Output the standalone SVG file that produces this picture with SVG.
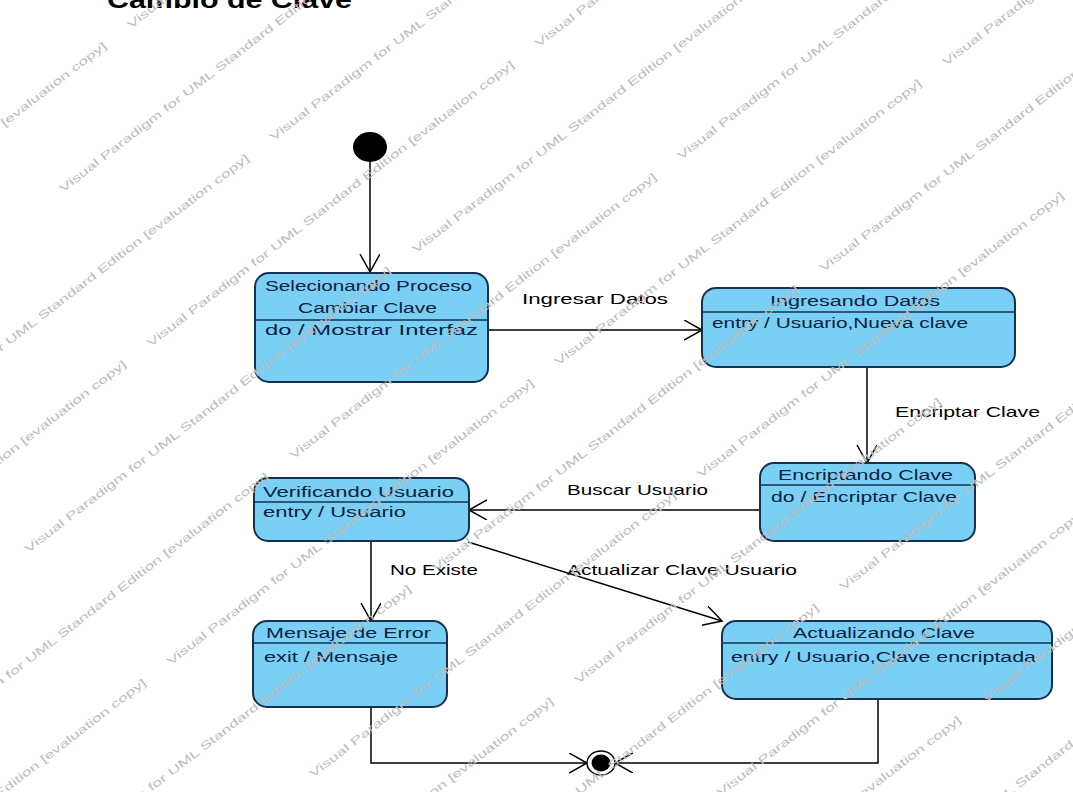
<svg xmlns="http://www.w3.org/2000/svg" width="1073" height="792" viewBox="0 0 1073 792">
<style>
.node rect{fill:#7acff5;stroke:#16304f;stroke-width:2}
.node line{stroke:#16304f;stroke-width:1.6}
.nt{font-family:"Liberation Sans",Arial,sans-serif;font-size:14px;fill:#0d2240}
.lbl{font-family:"Liberation Sans",Arial,sans-serif;font-size:15px;fill:#000}
.ttl{font-family:"Liberation Sans",Arial,sans-serif;font-size:24px;font-weight:bold;fill:#000}
.conn path{fill:none;stroke:#000;stroke-width:1.5}
.wm{font-family:"Liberation Sans",Arial,sans-serif;font-size:11px;fill:#bdbdbd}
</style>
<defs>
<marker id="arr" markerUnits="userSpaceOnUse" markerWidth="22" markerHeight="24" refX="18" refY="10" orient="auto">
<path d="M0,0 L18,10 L0,20" fill="none" stroke="#000" stroke-width="1.5"/>
</marker>
</defs>
<rect width="1073" height="792" fill="#fff"/>
<text class="ttl" x="107" y="8" textLength="245" lengthAdjust="spacingAndGlyphs">Cambio de Clave</text>

<g id="connectors" class="conn">
<path d="M370,161 L370,272" marker-end="url(#arr)"/>
<path d="M488,330 L702,330" marker-end="url(#arr)"/>
<path d="M867,367 L867,463" marker-end="url(#arr)"/>
<path d="M760,510 L469,510" marker-end="url(#arr)"/>
<path d="M371,541 L371,621" marker-end="url(#arr)"/>
<path d="M468,542 L722,621" marker-end="url(#arr)"/>
<path d="M371,707 L371,763 L587,763" marker-end="url(#arr)"/>
<path d="M878,699 L878,763 L615,763" marker-end="url(#arr)"/>
<text class="lbl" x="522" y="304" textLength="146" lengthAdjust="spacingAndGlyphs">Ingresar Datos</text>
<text class="lbl" x="895" y="417" textLength="145" lengthAdjust="spacingAndGlyphs">Encriptar Clave</text>
<text class="lbl" x="567" y="495" textLength="141" lengthAdjust="spacingAndGlyphs">Buscar Usuario</text>
<text class="lbl" x="390" y="575" textLength="88" lengthAdjust="spacingAndGlyphs">No Existe</text>
<text class="lbl" x="567" y="575" textLength="230" lengthAdjust="spacingAndGlyphs">Actualizar Clave Usuario</text>
</g>

<g id="initial">
<ellipse cx="370" cy="147" rx="17" ry="15" fill="#000"/>
</g>

<g id="final">
<ellipse cx="601" cy="763" rx="14" ry="12" fill="#fff" stroke="#000" stroke-width="1.5"/>
<ellipse cx="601" cy="763" rx="9.5" ry="8.5" fill="#000"/>
</g>

<g id="selecionando" class="node">
<rect x="255" y="273" width="233" height="109" rx="14"/>
<line x1="255" y1="320" x2="488" y2="320"/>
<text class="nt" x="265" y="291" textLength="207" lengthAdjust="spacingAndGlyphs">Selecionando Proceso</text>
<text class="nt" x="298" y="313" textLength="139" lengthAdjust="spacingAndGlyphs">Cambiar Clave</text>
<text class="nt" x="265" y="335" textLength="213" lengthAdjust="spacingAndGlyphs">do / Mostrar Interfaz</text>
</g>

<g id="ingresando" class="node">
<rect x="702" y="288" width="313" height="79" rx="14"/>
<line x1="702" y1="312" x2="1015" y2="312"/>
<text class="nt" x="770" y="306" textLength="170" lengthAdjust="spacingAndGlyphs">Ingresando Datos</text>
<text class="nt" x="712" y="328" textLength="256" lengthAdjust="spacingAndGlyphs">entry / Usuario,Nueva clave</text>
</g>

<g id="encriptando" class="node">
<rect x="760" y="463" width="215" height="78" rx="14"/>
<line x1="760" y1="485" x2="975" y2="485"/>
<text class="nt" x="778" y="480" textLength="175" lengthAdjust="spacingAndGlyphs">Encriptando Clave</text>
<text class="nt" x="771" y="502" textLength="186" lengthAdjust="spacingAndGlyphs">do / Encriptar Clave</text>
</g>

<g id="verificando" class="node">
<rect x="254" y="478" width="215" height="63" rx="14"/>
<line x1="254" y1="502" x2="469" y2="502"/>
<text class="nt" x="263" y="497" textLength="191" lengthAdjust="spacingAndGlyphs">Verificando Usuario</text>
<text class="nt" x="263" y="517" textLength="143" lengthAdjust="spacingAndGlyphs">entry / Usuario</text>
</g>

<g id="mensaje" class="node">
<rect x="253" y="621" width="194" height="86" rx="14"/>
<line x1="253" y1="643" x2="447" y2="643"/>
<text class="nt" x="266" y="638" textLength="165" lengthAdjust="spacingAndGlyphs">Mensaje de Error</text>
<text class="nt" x="264" y="662" textLength="134" lengthAdjust="spacingAndGlyphs">exit / Mensaje</text>
</g>

<g id="actualizando" class="node">
<rect x="722" y="621" width="330" height="78" rx="14"/>
<line x1="722" y1="643" x2="1052" y2="643"/>
<text class="nt" x="793" y="638" textLength="182" lengthAdjust="spacingAndGlyphs">Actualizando Clave</text>
<text class="nt" x="731" y="662" textLength="305" lengthAdjust="spacingAndGlyphs">entry / Usuario,Clave encriptada</text>
</g>

<g id="watermark" transform="rotate(-37.7)">
<text class="wm" x="-404" y="103" textLength="460" lengthAdjust="spacingAndGlyphs">Visual Paradigm for UML Standard Edition [evaluation copy]</text>
<text class="wm" x="86" y="103" textLength="460" lengthAdjust="spacingAndGlyphs">Visual Paradigm for UML Standard Edition [evaluation copy]</text>
<text class="wm" x="-68" y="191" textLength="460" lengthAdjust="spacingAndGlyphs">Visual Paradigm for UML Standard Edition [evaluation copy]</text>
<text class="wm" x="-360" y="279" textLength="460" lengthAdjust="spacingAndGlyphs">Visual Paradigm for UML Standard Edition [evaluation copy]</text>
<text class="wm" x="130" y="279" textLength="460" lengthAdjust="spacingAndGlyphs">Visual Paradigm for UML Standard Edition [evaluation copy]</text>
<text class="wm" x="-583" y="367" textLength="460" lengthAdjust="spacingAndGlyphs">Visual Paradigm for UML Standard Edition [evaluation copy]</text>
<text class="wm" x="-93" y="367" textLength="460" lengthAdjust="spacingAndGlyphs">Visual Paradigm for UML Standard Edition [evaluation copy]</text>
<text class="wm" x="397" y="367" textLength="460" lengthAdjust="spacingAndGlyphs">Visual Paradigm for UML Standard Edition [evaluation copy]</text>
<text class="wm" x="-316" y="455" textLength="460" lengthAdjust="spacingAndGlyphs">Visual Paradigm for UML Standard Edition [evaluation copy]</text>
<text class="wm" x="174" y="455" textLength="460" lengthAdjust="spacingAndGlyphs">Visual Paradigm for UML Standard Edition [evaluation copy]</text>
<text class="wm" x="-539" y="543" textLength="460" lengthAdjust="spacingAndGlyphs">Visual Paradigm for UML Standard Edition [evaluation copy]</text>
<text class="wm" x="-49" y="543" textLength="460" lengthAdjust="spacingAndGlyphs">Visual Paradigm for UML Standard Edition [evaluation copy]</text>
<text class="wm" x="441" y="543" textLength="460" lengthAdjust="spacingAndGlyphs">Visual Paradigm for UML Standard Edition [evaluation copy]</text>
<text class="wm" x="-762" y="631" textLength="460" lengthAdjust="spacingAndGlyphs">Visual Paradigm for UML Standard Edition [evaluation copy]</text>
<text class="wm" x="-272" y="631" textLength="460" lengthAdjust="spacingAndGlyphs">Visual Paradigm for UML Standard Edition [evaluation copy]</text>
<text class="wm" x="218" y="631" textLength="460" lengthAdjust="spacingAndGlyphs">Visual Paradigm for UML Standard Edition [evaluation copy]</text>
<text class="wm" x="708" y="631" textLength="460" lengthAdjust="spacingAndGlyphs">Visual Paradigm for UML Standard Edition [evaluation copy]</text>
<text class="wm" x="-495" y="719" textLength="460" lengthAdjust="spacingAndGlyphs">Visual Paradigm for UML Standard Edition [evaluation copy]</text>
<text class="wm" x="-5" y="719" textLength="460" lengthAdjust="spacingAndGlyphs">Visual Paradigm for UML Standard Edition [evaluation copy]</text>
<text class="wm" x="485" y="719" textLength="460" lengthAdjust="spacingAndGlyphs">Visual Paradigm for UML Standard Edition [evaluation copy]</text>
<text class="wm" x="-228" y="807" textLength="460" lengthAdjust="spacingAndGlyphs">Visual Paradigm for UML Standard Edition [evaluation copy]</text>
<text class="wm" x="262" y="807" textLength="460" lengthAdjust="spacingAndGlyphs">Visual Paradigm for UML Standard Edition [evaluation copy]</text>
<text class="wm" x="-451" y="895" textLength="460" lengthAdjust="spacingAndGlyphs">Visual Paradigm for UML Standard Edition [evaluation copy]</text>
<text class="wm" x="39" y="895" textLength="460" lengthAdjust="spacingAndGlyphs">Visual Paradigm for UML Standard Edition [evaluation copy]</text>
<text class="wm" x="-184" y="983" textLength="460" lengthAdjust="spacingAndGlyphs">Visual Paradigm for UML Standard Edition [evaluation copy]</text>
<text class="wm" x="306" y="983" textLength="460" lengthAdjust="spacingAndGlyphs">Visual Paradigm for UML Standard Edition [evaluation copy]</text>
<text class="wm" x="83" y="1071" textLength="460" lengthAdjust="spacingAndGlyphs">Visual Paradigm for UML Standard Edition [evaluation copy]</text>
<text class="wm" x="-140" y="1159" textLength="460" lengthAdjust="spacingAndGlyphs">Visual Paradigm for UML Standard Edition [evaluation copy]</text>
<text class="wm" x="350" y="1159" textLength="460" lengthAdjust="spacingAndGlyphs">Visual Paradigm for UML Standard Edition [evaluation copy]</text>
<text class="wm" x="127" y="1247" textLength="460" lengthAdjust="spacingAndGlyphs">Visual Paradigm for UML Standard Edition [evaluation copy]</text>
</g>
</svg>
